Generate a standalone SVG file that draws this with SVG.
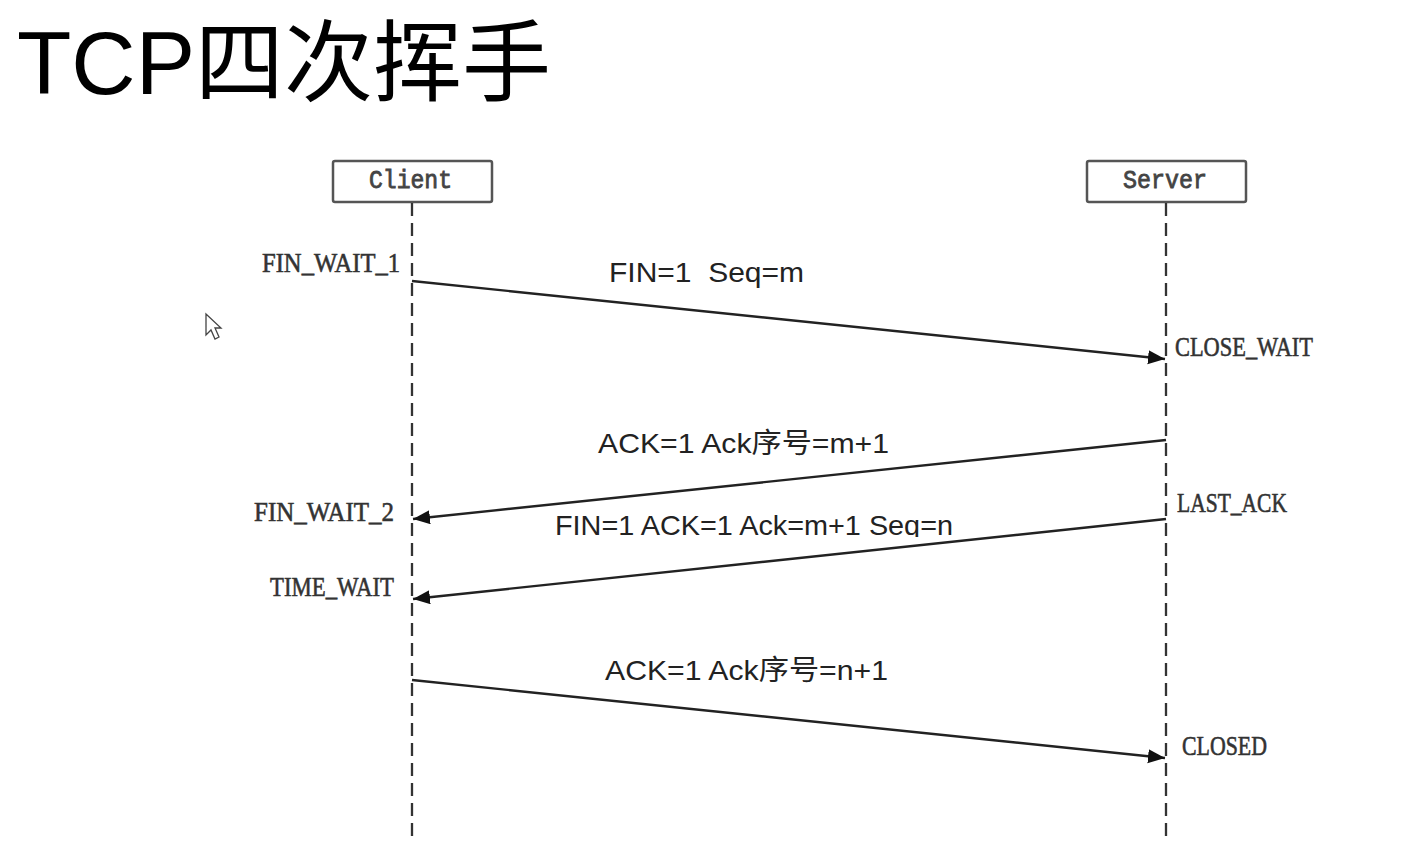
<svg xmlns="http://www.w3.org/2000/svg" width="1403" height="862" viewBox="0 0 1403 862">
<style>
.title{font-family:"Liberation Sans","Noto Sans CJK SC",sans-serif;font-size:89px;fill:#000}
.box{fill:#fff;stroke:#555;stroke-width:2.5}
.boxt{font-family:"Liberation Mono",monospace;font-size:25px;fill:#444;stroke:#444;stroke-width:0.8}
.life{stroke:#333;stroke-width:2.3;stroke-dasharray:13 7;fill:none}
.msg{stroke:#222;stroke-width:2.4;fill:none}
.lbl{font-family:"Liberation Sans","Noto Sans CJK SC",sans-serif;font-size:28px;fill:#222}
.st{font-family:"Liberation Serif",serif;font-size:28px;fill:#333;stroke:#333;stroke-width:0.6}
</style>
<defs>
<marker id="ah" markerUnits="userSpaceOnUse" markerWidth="18" markerHeight="15" refX="17" refY="7" orient="auto">
<path d="M0,0 L17,7 L0,14 z" fill="#111"/>
</marker>
<clipPath id="clip3"><rect x="540" y="500" width="430" height="37"/></clipPath>
</defs>
<rect width="1403" height="862" fill="#fff"/>
<text class="title" x="17" y="94">TCP四次挥手</text>
<g id="cursor"><path d="M206,314 L206,335 L211,330 L215,339 L219,337 L215,328 L221,328 Z" fill="#fff" stroke="#444" stroke-width="1.3"/></g>
<g id="client">
<rect class="box" x="333" y="161" width="159" height="41" rx="2"/>
<text class="boxt" x="369" y="188" textLength="83" lengthAdjust="spacingAndGlyphs">Client</text>
</g>
<g id="server">
<rect class="box" x="1087" y="161" width="159" height="41" rx="2"/>
<text class="boxt" x="1123" y="188" textLength="84" lengthAdjust="spacingAndGlyphs">Server</text>
</g>
<g id="lifelines">
<line class="life" x1="412" y1="203" x2="412" y2="840"/>
<line class="life" x1="1166" y1="203" x2="1166" y2="840"/>
</g>
<g id="states">
<text class="st" x="262" y="272" textLength="138" lengthAdjust="spacingAndGlyphs">FIN_WAIT_1</text>
<text class="st" x="1175" y="356" textLength="138" lengthAdjust="spacingAndGlyphs">CLOSE_WAIT</text>
<text class="st" x="1177" y="512" textLength="110" lengthAdjust="spacingAndGlyphs">LAST_ACK</text>
<text class="st" x="254" y="521" textLength="140" lengthAdjust="spacingAndGlyphs">FIN_WAIT_2</text>
<text class="st" x="270" y="596" textLength="124" lengthAdjust="spacingAndGlyphs">TIME_WAIT</text>
<text class="st" x="1182" y="755" textLength="85" lengthAdjust="spacingAndGlyphs">CLOSED</text>
</g>
<g id="connectors">
<line class="msg" x1="412" y1="281" x2="1165" y2="359" marker-end="url(#ah)"/>
<line class="msg" x1="1166" y1="440" x2="413" y2="519" marker-end="url(#ah)"/>
<line class="msg" x1="1166" y1="519" x2="413" y2="599" marker-end="url(#ah)"/>
<line class="msg" x1="412" y1="680" x2="1165" y2="758" marker-end="url(#ah)"/>
</g>
<g id="labels">
<text class="lbl" x="609" y="282" textLength="195" lengthAdjust="spacingAndGlyphs" xml:space="preserve">FIN=1  Seq=m</text>
<text class="lbl" x="598" y="453" textLength="291" lengthAdjust="spacingAndGlyphs">ACK=1 Ack序号=m+1</text>
<text class="lbl" x="555" y="535" textLength="398" lengthAdjust="spacingAndGlyphs" clip-path="url(#clip3)">FIN=1 ACK=1 Ack=m+1 Seq=n</text>
<text class="lbl" x="605" y="680" textLength="283" lengthAdjust="spacingAndGlyphs">ACK=1 Ack序号=n+1</text>
</g>
</svg>
